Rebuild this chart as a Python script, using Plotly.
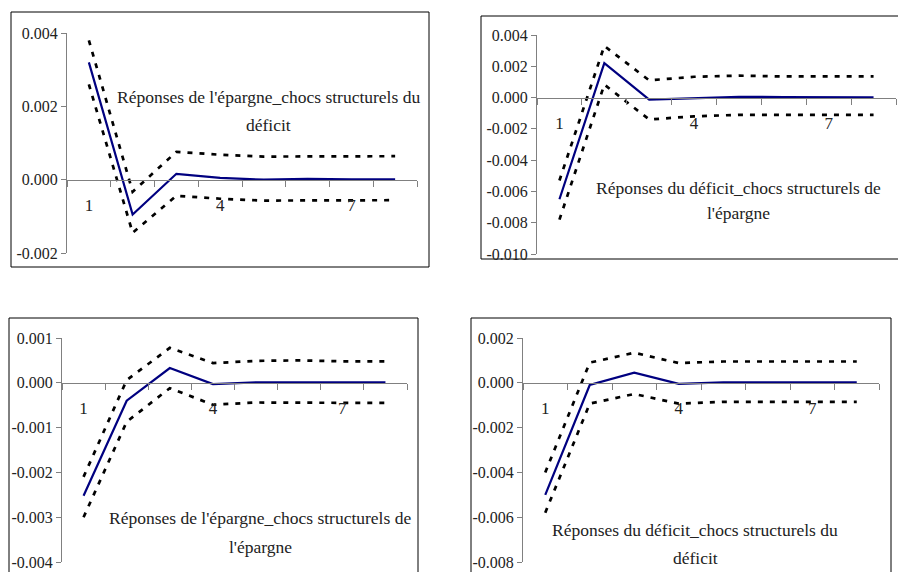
import plotly.graph_objects as go

W, H = 898, 572

periods = [1, 2, 3, 4, 5, 6, 7, 8]
x_labels = ["1", "4", "7"]
x_label_pos = [1, 4, 7]

# Panel 1: épargne <- chocs déficit
p1_resp = [0.0032, -0.00095, 0.00016, 0.00005, 0.0, 0.00002, 0.00001, 0.00001]
p1_up = [0.0038, -0.00033, 0.00076, 0.00068, 0.00063, 0.00064, 0.00064, 0.00064]
p1_lo = [0.0026, -0.00145, -0.00044, -0.00052, -0.00057, -0.00057, -0.00056, -0.00056]
p1_ticks = [-0.002, 0.0, 0.002, 0.004]
p1_text = ["-0.002", "0.000", "0.002", "0.004"]
p1_title = ["Réponses de l'épargne_chocs structurels du", "déficit"]

# Panel 2: déficit <- chocs épargne
p2_resp = [-0.0065, 0.0022, -0.00013, -0.00005, 0.00005, 0.00003, 0.00002, 0.00002]
p2_up = [-0.0053, 0.0033, 0.0011, 0.00133, 0.0014, 0.00135, 0.00135, 0.00135]
p2_lo = [-0.0078, 0.00083, -0.0014, -0.0012, -0.0011, -0.0011, -0.0011, -0.0011]
p2_ticks = [-0.010, -0.008, -0.006, -0.004, -0.002, 0.0, 0.002, 0.004]
p2_text = ["-0.010", "-0.008", "-0.006", "-0.004", "-0.002", "0.000", "0.002", "0.004"]
p2_title = ["Réponses du déficit_chocs structurels de", "l'épargne"]

# Panel 3: épargne <- chocs épargne
p3_resp = [-0.00252, -0.0004, 0.00033, -0.00003, 0.00001, 0.00001, 0.0, 0.00001]
p3_up = [-0.0021, 0.00006, 0.00078, 0.00044, 0.00049, 0.0005, 0.00048, 0.00048]
p3_lo = [-0.003, -0.00087, -0.00012, -0.00049, -0.00044, -0.00044, -0.00045, -0.00045]
p3_ticks = [-0.004, -0.003, -0.002, -0.001, 0.0, 0.001]
p3_text = ["-0.004", "-0.003", "-0.002", "-0.001", "0.000", "0.001"]
p3_title = ["Réponses de l'épargne_chocs structurels de", "l'épargne"]

# Panel 4: déficit <- chocs déficit
p4_resp = [-0.005, -0.0001, 0.00045, -0.00005, 0.00002, 0.00002, 0.00002, 0.00002]
p4_up = [-0.004, 0.0009, 0.00134, 0.00088, 0.00095, 0.00095, 0.00095, 0.00095]
p4_lo = [-0.0058, -0.00093, -0.0005, -0.00093, -0.00085, -0.00085, -0.00085, -0.00085]
p4_ticks = [-0.008, -0.006, -0.004, -0.002, 0.0, 0.002]
p4_text = ["-0.008", "-0.006", "-0.004", "-0.002", "0.000", "0.002"]
p4_title = ["Réponses du déficit_chocs structurels du", "déficit"]

FONT = "Liberation Serif"
AXIS_COL = "#808080"
TXT_COL = "#222222"

panels = [
    dict(resp=p1_resp, up=p1_up, lo=p1_lo, ticks=p1_ticks, text=p1_text, title=p1_title,
         px=(67, 417), py=(33, 253), box=(11, 12, 429, 267), tcx=268, tly=(97, 125)),
    dict(resp=p2_resp, up=p2_up, lo=p2_lo, ticks=p2_ticks, text=p2_text, title=p2_title,
         px=(537, 896), py=(35, 254), box=(481, 16, 905, 259), tcx=738, tly=(188, 213)),
    dict(resp=p3_resp, up=p3_up, lo=p3_lo, ticks=p3_ticks, text=p3_text, title=p3_title,
         px=(62, 407), py=(338, 562), box=(9, 318, 418, 590), tcx=260, tly=(518, 547)),
    dict(resp=p4_resp, up=p4_up, lo=p4_lo, ticks=p4_ticks, text=p4_text, title=p4_title,
         px=(523, 879), py=(338, 562), box=(471, 318, 891, 590), tcx=695, tly=(530, 558)),
]

fig = go.Figure()
layout = dict(
    width=W, height=H, margin=dict(l=0, r=0, t=0, b=0, autoexpand=False),
    paper_bgcolor="white", plot_bgcolor="white", showlegend=False,
    font=dict(family=FONT, size=16, color=TXT_COL),
)
shapes = []
annotations = []

for i, p in enumerate(panels, start=1):
    xs = "" if i == 1 else str(i)
    xa, ya = "x" + xs, "y" + xs
    ymin, ymax = p["ticks"][0], p["ticks"][-1]
    xdom = [p["px"][0] / W, p["px"][1] / W]
    ydom = [1 - p["py"][1] / H, 1 - p["py"][0] / H]
    zero_pos = ydom[0] + (0 - ymin) / (ymax - ymin) * (ydom[1] - ydom[0])

    for ser, col, dash, wd in [(p["up"], "black", "5px,7px", 2.7),
                               (p["lo"], "black", "5px,7px", 2.7),
                               (p["resp"], "#000080", "solid", 2.2)]:
        fig.add_trace(go.Scatter(x=periods, y=ser, mode="lines", xaxis=xa, yaxis=ya,
                                 line=dict(color=col, dash=dash, width=wd),
                                 hoverinfo="skip"))

    layout["xaxis" + xs] = dict(
        domain=xdom, range=[0.5, 8.5], anchor="free", position=zero_pos, automargin=False,
        showgrid=False, zeroline=False, showline=True, linecolor=AXIS_COL, linewidth=1,
        tickmode="array", tickvals=x_label_pos, ticktext=x_labels, ticks="",
        ticklabelstandoff=10,
        tickfont=dict(family=FONT, size=17, color=TXT_COL),
        minor=dict(tick0=0.5, dtick=1, ticks="outside", ticklen=6,
                   tickcolor=AXIS_COL, tickwidth=1, showgrid=False),
    )
    layout["yaxis" + xs] = dict(
        domain=ydom, range=[ymin, ymax], anchor=xa, automargin=False,
        showgrid=False, zeroline=False, showline=True, linecolor=AXIS_COL, linewidth=1,
        tickmode="array", tickvals=p["ticks"], ticktext=p["text"],
        ticks="outside", ticklen=5, tickcolor=AXIS_COL,
        tickfont=dict(family=FONT, size=16, color=TXT_COL),
    )

    bx0, by0, bx1, by1 = p["box"]
    shapes.append(dict(type="rect", xref="paper", yref="paper",
                       x0=bx0 / W, x1=bx1 / W, y0=1 - by1 / H, y1=1 - by0 / H,
                       line=dict(color="black", width=1), fillcolor="rgba(0,0,0,0)", layer="below"))
    for line_txt, ly in zip(p["title"], p["tly"]):
        annotations.append(dict(text=line_txt, xref="paper", yref="paper",
                                x=p["tcx"] / W, y=1 - ly / H, xanchor="center", yanchor="middle",
                                showarrow=False, font=dict(family=FONT, size=17.5, color=TXT_COL)))

layout["shapes"] = shapes
layout["annotations"] = annotations
fig.update_layout(**layout)
fig.write_html("out.html")
